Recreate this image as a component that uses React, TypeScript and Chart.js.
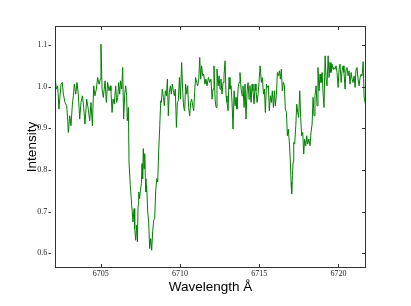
import React, { useEffect, useRef } from "react";
import { Chart, registerables } from "chart.js";

Chart.register(...registerables);

// Wavelength samples (Å)
const wavelengths = [
  6702.14, 6702.21, 6702.29, 6702.37, 6702.50, 6702.58, 6702.65, 6702.75, 6702.86, 6702.92,
  6702.96, 6703.05, 6703.13, 6703.22, 6703.28, 6703.34, 6703.43, 6703.51, 6703.59, 6703.68,
  6703.76, 6703.85, 6703.93, 6704.01, 6704.12, 6704.22, 6704.31, 6704.39, 6704.48, 6704.56,
  6704.64, 6704.73, 6704.81, 6704.90, 6704.98, 6705.02, 6705.09, 6705.17, 6705.28, 6705.36,
  6705.44, 6705.53, 6705.61,
  6705.65, 6705.72, 6705.78, 6705.86, 6705.95, 6706.01, 6706.08, 6706.14, 6706.20, 6706.26,
  6706.33, 6706.39, 6706.45, 6706.52, 6706.58, 6706.64, 6706.68, 6706.75, 6706.79, 6706.87,
  6706.96, 6707.04, 6707.11, 6707.15, 6707.21, 6707.27, 6707.32, 6707.36, 6707.40, 6707.46,
  6707.51, 6707.57, 6707.61, 6707.65, 6707.69, 6707.74, 6707.78, 6707.82, 6707.86, 6707.90,
  6707.97, 6708.03, 6708.09, 6708.16, 6708.22, 6708.28, 6708.35, 6708.41, 6708.47, 6708.54,
  6708.60, 6708.66, 6708.73, 6708.79,
  6708.83, 6708.89, 6708.96, 6709.02, 6709.08, 6709.15, 6709.21, 6709.27, 6709.33, 6709.40,
  6709.46, 6709.52, 6709.59, 6709.65, 6709.71, 6709.78, 6709.84, 6709.90, 6709.97, 6710.03,
  6710.11, 6710.18, 6710.24, 6710.30, 6710.36, 6710.43, 6710.49, 6710.55, 6710.62, 6710.68,
  6710.74, 6710.81, 6710.87, 6710.93, 6710.99, 6711.06, 6711.12, 6711.19, 6711.25, 6711.31,
  6711.37, 6711.44, 6711.50, 6711.58, 6711.65, 6711.71, 6711.80, 6711.88,
  6711.96, 6712.03, 6712.09, 6712.15, 6712.22, 6712.28, 6712.34, 6712.41, 6712.47, 6712.53,
  6712.59, 6712.66, 6712.72, 6712.78, 6712.85, 6712.91, 6712.97, 6713.04, 6713.10, 6713.16,
  6713.23, 6713.29, 6713.35, 6713.42, 6713.48, 6713.54, 6713.60, 6713.67, 6713.73, 6713.79,
  6713.86, 6713.92, 6713.98, 6714.05, 6714.11, 6714.17, 6714.24, 6714.30, 6714.36, 6714.42,
  6714.49, 6714.55, 6714.61, 6714.68, 6714.74, 6714.80, 6714.87, 6714.93, 6714.99, 6715.06,
  6715.14, 6715.20, 6715.27, 6715.33, 6715.39, 6715.46, 6715.52, 6715.58, 6715.64, 6715.71,
  6715.77, 6715.83, 6715.90, 6715.96, 6716.02, 6716.09, 6716.15, 6716.21, 6716.28, 6716.34,
  6716.40, 6716.46, 6716.53, 6716.59, 6716.65, 6716.72, 6716.78, 6716.84, 6716.91, 6716.97,
  6717.01, 6717.05, 6717.10, 6717.14, 6717.18, 6717.24, 6717.31, 6717.37, 6717.43, 6717.49,
  6717.56, 6717.62, 6717.68, 6717.75, 6717.81, 6717.87, 6717.94, 6718.00, 6718.06, 6718.13,
  6718.21,
  6718.27, 6718.34, 6718.40, 6718.46, 6718.52, 6718.59, 6718.65, 6718.71, 6718.78, 6718.84,
  6718.90, 6718.97, 6719.03, 6719.09, 6719.16, 6719.22, 6719.28, 6719.35, 6719.41, 6719.47,
  6719.53, 6719.60, 6719.66, 6719.72, 6719.79, 6719.85, 6719.91, 6719.98, 6720.04, 6720.10,
  6720.17, 6720.23, 6720.29, 6720.35, 6720.42, 6720.48, 6720.54, 6720.61, 6720.67, 6720.73,
  6720.80, 6720.86, 6720.92, 6720.99, 6721.05, 6721.11, 6721.17, 6721.24, 6721.30, 6721.37,
  6721.43, 6721.49, 6721.56, 6721.62, 6721.72,
];

// Normalised intensity at each wavelength
const intensity = [
  1.018, 0.994, 1.002, 0.946, 1.006, 1.010, 0.982, 0.962, 0.954, 0.922,
  0.890, 0.930, 0.906, 0.958, 0.978, 1.006, 0.982, 1.010, 0.982, 0.922,
  0.962, 0.978, 0.950, 0.910, 0.970, 0.946, 0.918, 0.962, 0.906, 1.002,
  0.978, 0.994, 1.022, 1.006, 1.018, 1.102, 0.994, 0.974, 1.014, 0.962,
  1.010, 0.990, 1.002,
  0.990, 0.938, 0.970, 0.958, 1.002, 0.962, 0.974, 1.010, 0.982, 1.014,
  0.994, 1.046, 0.922, 0.982, 1.002, 0.978, 0.918, 0.950, 0.819, 0.763,
  0.715, 0.675, 0.707, 0.659, 0.631, 0.667, 0.627, 0.715, 0.747, 0.731,
  0.751, 0.767, 0.815, 0.779, 0.851, 0.803, 0.839, 0.779, 0.747, 0.763,
  0.699, 0.675, 0.611, 0.635, 0.607, 0.651, 0.679, 0.683, 0.747, 0.779,
  0.771, 0.843, 0.906, 0.966,
  0.962, 0.994, 0.974, 0.954, 0.990, 0.978, 1.018, 0.930, 0.986, 1.002,
  0.982, 1.006, 0.990, 0.978, 0.994, 0.902, 0.962, 0.966, 1.022, 0.970,
  1.058, 0.986, 0.950, 0.942, 1.006, 0.982, 1.002, 0.950, 0.930, 0.962,
  0.970, 0.954, 0.942, 0.986, 1.022, 1.010, 1.002, 1.018, 1.070, 1.018,
  1.050, 1.026, 1.030, 1.006, 1.018, 1.002, 1.022, 1.010,
  1.018, 0.970, 0.994, 1.050, 0.970, 0.950, 1.042, 1.002, 1.026, 0.994,
  1.018, 0.982, 1.010, 1.026, 1.062, 0.978, 0.962, 0.942, 1.022, 0.994,
  1.002, 0.962, 0.898, 0.990, 0.954, 0.974, 0.946, 0.994, 1.010, 1.034,
  0.994, 0.978, 1.002, 0.950, 1.006, 0.922, 0.990, 1.010, 0.970, 1.002,
  0.962, 1.006, 0.990, 0.958, 1.006, 0.990, 0.962, 0.982, 1.010, 1.050,
  1.010, 1.022, 0.982, 0.994, 0.938, 1.006, 0.998, 1.002, 0.942, 0.978,
  0.962, 0.990, 0.950, 0.990, 0.954, 0.982, 1.034, 1.026, 1.038, 1.018,
  1.042, 0.990, 1.010, 1.002, 0.946, 0.938, 0.882, 0.898, 0.862, 0.818,
  0.771, 0.743, 0.787, 0.818, 0.866, 0.862, 0.906, 0.958, 0.938, 0.926,
  0.990, 0.926, 0.882, 0.890, 0.838, 0.874, 0.858, 0.882, 0.862, 0.874,
  0.858,
  0.890, 0.910, 0.974, 0.930, 0.978, 1.002, 0.954, 1.046, 0.990, 1.030,
  1.010, 1.034, 0.986, 0.950, 1.074, 1.018, 1.002, 1.074, 1.022, 1.058,
  1.034, 1.054, 1.042, 1.046, 1.042, 1.050, 1.034, 0.998, 1.042, 1.054,
  1.010, 1.038, 1.050, 1.034, 0.994, 1.042, 1.046, 1.026, 1.038, 1.006,
  1.034, 1.018, 1.010, 1.026, 0.998, 1.042, 1.046, 1.018, 1.002, 1.022,
  1.030, 1.026, 1.060, 0.975, 0.955,
];

const xTicks = [6705, 6710, 6715, 6720];
const yTicks = [0.6, 0.7, 0.8, 0.9, 1.0, 1.1];

const xRange = [6702.14, 6721.72];
const yRange = [0.566, 1.144];

const framePlugin = {
  id: "frameTicks",
  afterDraw(chart: any) {
    const { ctx, chartArea: a, scales } = chart;
    const L = Math.floor(a.left) + 0.5;
    const R = Math.floor(a.right) + 0.5;
    const T = Math.floor(a.top) + 0.5;
    const B = Math.floor(a.bottom) + 0.5;
    ctx.save();
    ctx.strokeStyle = "#333";
    ctx.lineWidth = 1;
    ctx.strokeRect(L, T, R - L, B - T);
    ctx.beginPath();
    for (const v of xTicks) {
      const px = Math.round(scales.x.getPixelForValue(v)) + 0.5;
      ctx.moveTo(px, B);
      ctx.lineTo(px, B - 3.5);
      ctx.moveTo(px, T);
      ctx.lineTo(px, T + 3.5);
    }
    for (const v of yTicks) {
      const py = Math.round(scales.y.getPixelForValue(v)) + 0.5;
      ctx.moveTo(R, py);
      ctx.lineTo(R - 3.5, py);
      ctx.moveTo(L - 7, py);
      ctx.lineTo(L - 4.5, py);
    }
    ctx.stroke();
    ctx.restore();
  },
};

export default function App() {
  const canvasRef = useRef<HTMLCanvasElement | null>(null);

  useEffect(() => {
    if (!canvasRef.current) return;
    const points = wavelengths.map((w, i) => ({ x: w, y: intensity[i] }));
    const chart = new Chart(canvasRef.current, {
      type: "line",
      data: {
        datasets: [
          {
            data: points,
            borderColor: "#008000",
            borderWidth: 1,
            pointRadius: 0,
            fill: false,
            tension: 0,
          },
        ],
      },
      options: {
        responsive: false,
        animation: false,
        events: [],
        layout: { padding: { left: 0, top: 26.7, right: 45.3, bottom: 0 } },
        plugins: { legend: { display: false }, tooltip: { enabled: false } },
        scales: {
          x: {
            type: "linear",
            min: xRange[0],
            max: xRange[1],
            afterFit: (s: any) => {
              s.height = 38.7;
            },
            afterBuildTicks: (s: any) => {
              s.ticks = xTicks.map((v) => ({ value: v }));
            },
            grid: { display: false, drawTicks: false },
            border: { display: false },
            ticks: {
              callback: (v: any) => String(v),
              font: { family: "Liberation Serif", size: 8 },
              color: "#222",
              padding: 2,
              maxRotation: 0,
              autoSkip: false,
            },
            title: {
              display: true,
              text: "Wavelength Å",
              font: { family: "Liberation Sans", size: 13.5 },
              color: "#000",
              padding: { top: 0, bottom: 11 },
            },
          },
          y: {
            type: "linear",
            min: yRange[0],
            max: yRange[1],
            afterFit: (s: any) => {
              s.width = 55.3;
            },
            afterBuildTicks: (s: any) => {
              s.ticks = yTicks.map((v) => ({ value: v }));
            },
            grid: { display: false, drawTicks: false },
            border: { display: false },
            ticks: {
              callback: (v: any) => Number(v).toFixed(1),
              font: { family: "Liberation Serif", size: 8 },
              color: "#222",
              padding: 8,
              autoSkip: false,
            },
            title: {
              display: true,
              text: "Intensity",
              font: { family: "Liberation Sans", size: 13.5 },
              color: "#000",
              padding: { top: 24, bottom: 0 },
            },
          },
        },
      },
      plugins: [framePlugin],
    });
    return () => chart.destroy();
  }, []);

  return (
    <div
      style={{
        position: "fixed",
        left: 0,
        top: 0,
        width: 411,
        height: 306,
        background: "#fff",
      }}
    >
      <canvas ref={canvasRef} width={411} height={306} style={{ display: "block" }} />
    </div>
  );
}
